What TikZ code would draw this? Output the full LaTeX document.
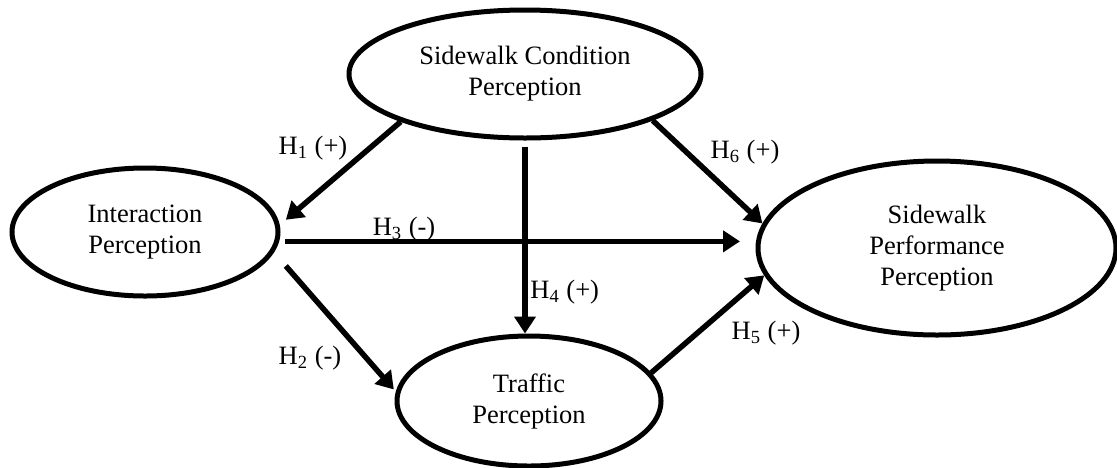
\documentclass[tikz,border=0pt]{standalone}
\usepackage{fontspec}
\setmainfont{Liberation Serif}
\usetikzlibrary{arrows.meta}
\usetikzlibrary{shapes.geometric}

\begin{document}
\begin{tikzpicture}[x=0.5pt, y=-0.5pt,
    construct/.style={draw, ellipse, line width=2.5pt, inner sep=0pt, align=center,
      font=\fontsize{13.25}{15.5}\selectfont},
    hyp/.style={-{Triangle[length=8.5pt, width=10.5pt]}, line width=2.75pt},
    hyptext/.style={font=\fontsize{13.25}{15.5}\selectfont, inner sep=0pt}]
    \useasboundingbox (0,0) rectangle (1117,467);
    % Constructs
    \node[construct, minimum width=176pt, minimum height=64pt] (sc) at (525,74) {Sidewalk Condition\\Perception};
    \node[construct, minimum width=133pt, minimum height=64pt] (ip) at (145,232) {Interaction\\Perception};
    \node[construct, minimum width=179pt, minimum height=87pt] (sp) at (937,248) {Sidewalk\\Performance\\Perception};
    \node[construct, minimum width=132pt, minimum height=65pt] (tp) at (529,401) {Traffic\\Perception};
    % Hypotheses
    \draw[hyp, shorten >=4pt] (sc.201) -- (ip.3.5);
    \draw[hyp] (sc.340.5) -- (sp.172);
    \draw[hyp, shorten <=3pt] (sc.south) -- (sc.south |- tp.north);
    \draw[hyp, shorten <=3pt, shorten >=7.75pt] (ip.356) -- (ip.356 -| sp.west);
    \draw[hyp, shorten <=9pt, shorten >=1.5pt] (ip.351) -- (tp.176);
    \draw[hyp] (tp.13) -- (sp.189.5);
    \node[hyptext] (h1) at (313,148) {H\textsubscript{1} (+)};
    \node[hyptext] (h6) at (745,152) {H\textsubscript{6} (+)};
    \node[hyptext, anchor=west] (h4) at (530,292) {H\textsubscript{4} (+)};
    \node[hyptext] (h3) at (404,229) {H\textsubscript{3} (-)};
    \node[hyptext] (h2) at (310,358) {H\textsubscript{2} (-)};
    \node[hyptext] (h5) at (766,333) {H\textsubscript{5} (+)};
\end{tikzpicture}
\end{document}
